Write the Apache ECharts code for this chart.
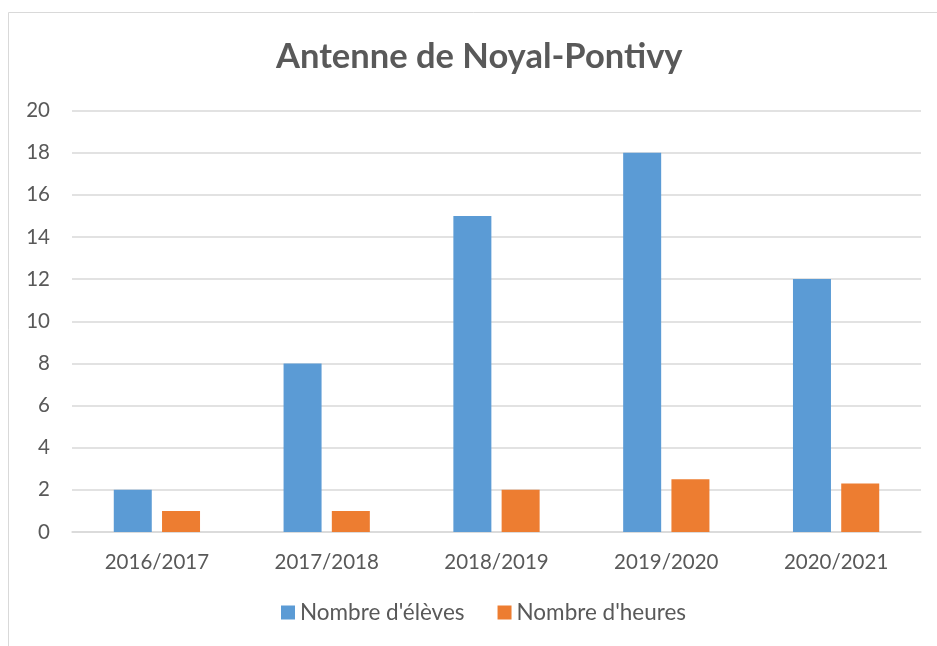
<!DOCTYPE html>
<html>
<head>
<meta charset="utf-8">
<script src="https://cdn.jsdelivr.net/npm/echarts@6/dist/echarts.min.js"></script>
<style>
  html, body { margin: 0; padding: 0; background: #fff; }
  #chart { width: 937px; height: 646px; }
</style>
</head>
<body>
<div id="chart"></div>
<script>
const categories = ['2016/2017', '2017/2018', '2018/2019', '2019/2020', '2020/2021'];
const eleves = [2, 8, 15, 18, 12];
const heures = [1, 1, 2, 2.5, 2.3];
const seriesNames = ["Nombre d'élèves", "Nombre d'heures"];

const font = 'Lato, "Open Sans", sans-serif';
const myChart = echarts.init(document.getElementById('chart'));

myChart.setOption({
    animation: false,
    textStyle: { fontFamily: font, color: '#595959' },
    title: {
        text: 'Antenne de Noyal-Pontivy',
        left: 271,
        top: 34,
        textStyle: { fontFamily: font, fontSize: 34.5, fontWeight: 'bold', color: '#595959' }
    },
    // cadre du graphique
    graphic: [{
        type: 'rect',
        shape: { x: 8.5, y: 12.5, width: 960, height: 660 },
        style: { fill: 'none', stroke: '#D9D9D9', lineWidth: 1 }
    }],
    legend: {
        bottom: 17,
        left: 276,
        itemWidth: 14,
        itemHeight: 14,
        itemGap: 33,
        icon: 'rect',
        textStyle: { fontFamily: font, fontSize: 22.5, color: '#595959' }
    },
    grid: { left: 72, right: 16, top: 110.5, bottom: 114 },
    xAxis: {
        type: 'category',
        data: categories,
        axisLine: { lineStyle: { color: '#D9D9D9', width: 1.5 } },
        axisTick: { show: false },
        axisLabel: { fontFamily: font, fontSize: 20.5, color: '#595959', margin: 20 }
    },
    yAxis: {
        type: 'value',
        min: 0,
        max: 20,
        interval: 2,
        axisLine: { show: false },
        axisTick: { show: false },
        splitLine: { lineStyle: { color: '#D9D9D9', width: 1.5 } },
        axisLabel: { fontFamily: font, fontSize: 20.5, color: '#595959', margin: 22 }
    },
    series: [
        {
            name: seriesNames[0],
            type: 'bar',
            data: eleves,
            barWidth: 38,
            barGap: '27%',
            itemStyle: { color: '#5B9BD5' }
        },
        {
            name: seriesNames[1],
            type: 'bar',
            data: heures,
            barWidth: 38,
            itemStyle: { color: '#ED7D31' }
        }
    ]
});
</script>
</body>
</html>
